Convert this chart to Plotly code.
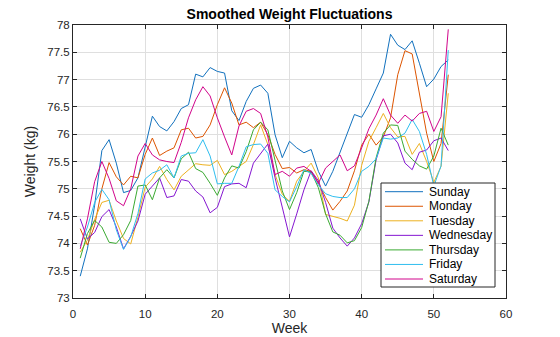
import plotly.graph_objects as go

weeks = list(range(1, 53))
days = ["Sunday", "Monday", "Tuesday", "Wednesday", "Thursday", "Friday", "Saturday"]
colors = ["#1171BE", "#DD5400", "#EDB120", "#8516D1", "#3BAA32", "#2FBEEF", "#D1048B"]

sunday = [73.4, 73.9, 74.7, 75.7, 75.9, 75.47, 74.93, 74.97, 75.2, 75.75,
          76.33, 76.14, 76.06, 76.23, 76.47, 76.54, 77.1, 77.05, 77.22, 77.15,
          77.12, 76.43, 76.25, 76.6, 76.84, 76.9, 76.75, 75.99, 75.57, 75.87,
          75.75, 75.66, 75.72, 75.32, 75.05, 75.32, 75.66, 75.99, 76.36, 76.31,
          76.54, 76.83, 77.12, 77.83, 77.63, 77.55, 77.71, 77.3, 76.87, 77.01,
          77.24, 77.36]
monday = [74.27, 73.97, 74.33, 75.0, 75.48, 75.22, 75.07, 75.23, 75.2, 75.63,
          75.93, 75.61, 75.69, 75.75, 76.08, 76.11, 75.93, 75.96, 76.17, 76.54,
          76.85, 76.57, 76.17, 76.22, 76.12, 76.22, 75.99, 75.63, 75.37, 75.39,
          75.29, 75.35, 75.32, 75.11, 74.84, 74.61, 74.77, 74.96, 75.33, 75.8,
          76.0, 75.8, 75.95, 76.3, 77.09, 77.53, 77.47, 76.74, 76.02, 75.5,
          75.83, 77.09]
tuesday = [73.84, 74.06, 74.44, 74.75, 74.79, 74.41, 74.09, 73.99, 74.48, 75.03,
           75.18, 75.41, 75.17, 74.98, 75.23, 75.34, 75.46, 75.44, 75.43, 75.52,
           75.26, 75.32, 75.41, 75.5, 75.81, 76.17, 75.81, 75.26, 74.9, 74.77,
           75.14, 75.32, 75.47, 75.2, 74.53, 74.5, 74.46, 74.41, 74.7, 75.43,
           75.87, 76.12, 76.38, 76.12, 75.95, 75.96, 75.63, 75.83, 75.5, 75.12,
           75.41, 76.75]
wednesday = [74.45, 74.08, 74.2, 74.49, 74.62, 74.3, 73.9, 74.13, 74.41, 74.9,
             75.05, 75.2, 74.84, 74.87, 75.17, 75.14, 74.96, 74.85, 74.56, 74.66,
             75.04, 75.09, 75.1, 75.02, 75.47, 75.64, 75.82, 75.2, 74.67, 74.12,
             74.54, 74.98, 75.33, 75.15, 74.75, 74.28, 74.1, 73.95, 74.1, 74.36,
             74.76, 75.53, 75.97, 76.0, 75.84, 75.47, 75.35, 75.67, 75.71, 75.88,
             75.93, 75.7]
thursday = [73.73, 74.18, 74.42, 74.3, 74.02, 74.0, 74.16, 74.42, 75.05, 75.07,
            74.8, 75.2, 75.35, 75.2, 75.55, 75.67, 75.37, 75.3, 75.1, 74.88,
            75.2, 75.42, 75.38, 75.68, 76.08, 76.22, 76.08, 75.5, 74.96, 74.62,
            74.93, 75.32, 75.31, 75.02, 74.54, 74.21, 74.15, 74.01, 74.05, 74.29,
            74.77, 75.57, 76.02, 76.17, 76.16, 75.69, 75.54, 75.42, 75.36, 75.6,
            76.11, 75.8]
friday = [73.95, 74.3, 74.75, 74.99, 74.8, 74.25, 73.89, 74.12, 74.55, 75.18,
          75.29, 75.34, 75.44, 75.2, 75.6, 75.65, 75.66, 75.9, 75.6, 75.09,
          75.1, 75.1, 75.41, 75.77, 75.81, 75.82, 75.65, 74.98, 74.86, 74.76,
          75.04, 75.35, 75.28, 75.07, 74.91, 74.86, 74.84, 74.84, 75.0, 75.32,
          75.41, 75.55, 75.93, 75.91, 75.93, 76.02, 76.27, 76.05, 75.63, 75.05,
          75.42, 77.54]
saturday = [73.9, 74.45, 75.13, 75.5, 75.19, 74.78, 74.69, 75.0, 75.6, 75.83,
            75.62, 75.53, 75.5, 75.48, 75.85, 76.3, 76.63, 76.87, 76.7, 76.3,
            75.95, 75.62, 76.15, 76.42, 76.47, 76.38, 75.95, 75.26, 75.32, 75.23,
            75.38, 75.41, 75.32, 75.1, 75.38, 75.5, 75.62, 75.33, 75.42, 75.75,
            76.1, 76.35, 76.65, 76.35, 76.2, 76.35, 76.24, 76.38, 76.42, 76.05,
            76.32, 77.92]

series = [sunday, monday, tuesday, wednesday, thursday, friday, saturday]

W, H = 560, 337
L, R, T, B = 73, 506, 25, 298  # plot area in pixels
font_family = "Liberation Sans, Arial, Helvetica, sans-serif"
axis_color = "#262626"

fig = go.Figure()
for name, vals, col in zip(days, series, colors):
    fig.add_trace(go.Scatter(x=weeks, y=vals, mode="lines", name=name,
                             line=dict(color=col, width=1), showlegend=False))

def px_x(p):
    return (p - L) / (R - L)

def px_y(p):
    return (B - p) / (B - T)

# legend (MATLAB style box)
shapes = [dict(type="rect", xref="paper", yref="paper",
               x0=px_x(381), x1=px_x(495), y0=px_y(287), y1=px_y(183),
               line=dict(color=axis_color, width=1), fillcolor="white", layer="above")]
annotations = []
row0, dy = 191.7, 14.55
for i, (name, col) in enumerate(zip(days, colors)):
    yy = row0 + i * dy
    shapes.append(dict(type="line", xref="paper", yref="paper",
                       x0=px_x(385), x1=px_x(423), y0=px_y(yy), y1=px_y(yy),
                       line=dict(color=col, width=1), layer="above"))
    annotations.append(dict(xref="paper", yref="paper", x=px_x(427), y=px_y(yy),
                            text=name, showarrow=False, xanchor="left", yanchor="middle",
                            font=dict(size=12, color="black", family=font_family)))

axis_common = dict(showline=True, linecolor=axis_color, linewidth=1, mirror="ticks",
                   ticks="inside", ticklen=4, tickcolor=axis_color, tickwidth=1,
                   showgrid=True, gridcolor="#dfdfdf", gridwidth=1, zeroline=False,
                   automargin=False,
                   tickfont=dict(size=11.5, color=axis_color, family=font_family))

fig.update_layout(
    width=W, height=H,
    margin=dict(l=L, r=W - R, t=T, b=H - B),
    paper_bgcolor="white", plot_bgcolor="white",
    font=dict(family=font_family, color=axis_color),
    title=dict(text="<b>Smoothed Weight Fluctuations</b>", x=0.5, xref="paper",
               y=1 - 14 / H, yref="container", xanchor="center", yanchor="middle",
               font=dict(size=14, color="black", family=font_family)),
    xaxis=dict(range=[0, 60], dtick=10, tick0=0, ticklabelstandoff=5,
               title=dict(text="Week", font=dict(size=14, color=axis_color), standoff=4),
               **axis_common),
    yaxis=dict(range=[73, 78], dtick=0.5, tick0=73,
               title=dict(text="Weight (kg)", font=dict(size=14, color=axis_color), standoff=8),
               **axis_common),
    shapes=shapes, annotations=annotations,
)

fig.write_html("out.html")
